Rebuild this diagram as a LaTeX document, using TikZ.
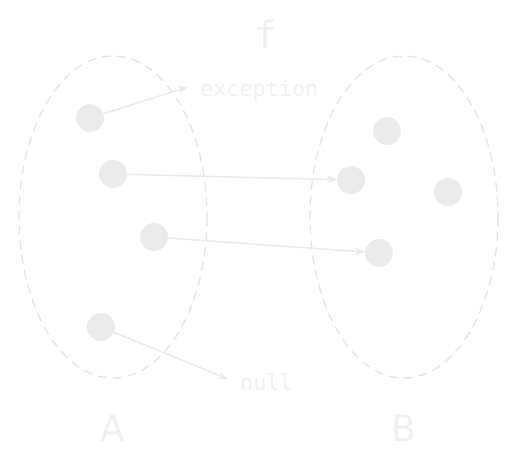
\documentclass[tikz,border=0pt]{standalone}
\usepackage{fontspec}
\setmainfont{DejaVu Sans}
\setmonofont{DejaVu Sans Mono}
\usetikzlibrary{arrows.meta}
\definecolor{dotc}{HTML}{EBEBEB}
\definecolor{linec}{HTML}{EAEAEA}
\definecolor{txtc}{HTML}{F0F0F0}
\definecolor{elc}{HTML}{E4E4E4}
\tikzset{
  dot/.style={circle,fill=dotc,draw=none,minimum size=28pt,inner sep=0pt},
  setline/.style={draw=elc,line width=1.3pt,dash pattern=on 9pt off 6pt},
  maparrow/.style={draw=linec,line width=1.5pt,-{Stealth[length=10pt,width=8pt]}},
  monolabel/.style={text=txtc,font=\ttfamily\fontsize{21.8}{24}\selectfont,inner sep=0pt,anchor=west},
  setlabel/.style={text=txtc,font=\fontsize{36}{40}\selectfont,inner sep=0pt}
}
\begin{document}
\begin{tikzpicture}[x=1pt,y=-1pt]
\useasboundingbox (0,0) rectangle (521,466);
\draw[setline] (113,217) ellipse [x radius=94,y radius=161];
\draw[setline] (404,217) ellipse [x radius=94,y radius=161];
\node[dot] (a1) at (90,118) {};
\node[dot] (a2) at (113,174) {};
\node[dot] (a3) at (154,237) {};
\node[dot] (a4) at (101,327) {};
\node[dot] (b1) at (387,131) {};
\node[dot] (b2) at (351,180) {};
\node[dot] (b3) at (448,192) {};
\node[dot] (b4) at (379,253) {};
\node[monolabel] (exc) at (200,90) {exception};
\node[monolabel] (nul) at (240,382) {null};
\node[text=txtc,font=\ttfamily\fontsize{38}{40}\selectfont,inner sep=0pt] (f) at (266,34) {f};
\node[setlabel] (A) at (113,428) {A};
\node[setlabel] (B) at (404,428) {B};
\coordinate (excend) at (188,87);
\coordinate (nulend) at (228,379);
\draw[maparrow] (a1) -- (excend);
\draw[maparrow] (a2) -- (b2);
\draw[maparrow] (a3) -- (b4);
\draw[maparrow] (a4) -- (nulend);
\end{tikzpicture}
\end{document}
